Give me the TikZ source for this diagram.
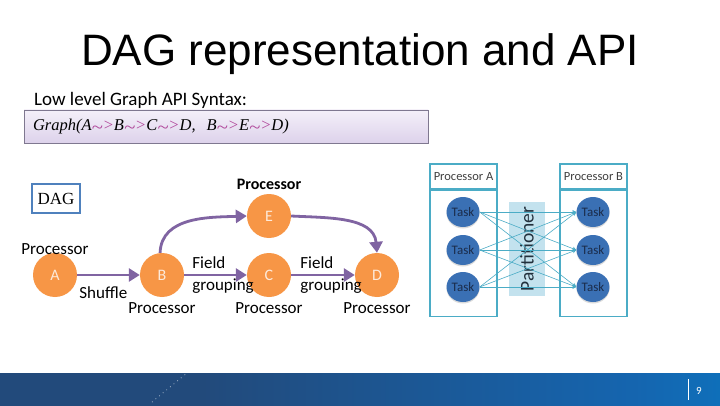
\documentclass[tikz,border=0pt]{standalone}
\usepackage{fontspec}
\setmainfont{Carlito}
\newfontfamily\titlefont{Liberation Sans}
\newfontfamily\codefont{Liberation Serif}
\usepackage{tikz}
\usetikzlibrary{shapes.geometric, arrows.meta, positioning, shadows, calc}
\definecolor{nodeorange}{HTML}{F79646}
\definecolor{letterlight}{HTML}{FDEADA}
\definecolor{arrowpurple}{HTML}{8064A2}
\definecolor{dagblue}{HTML}{4F81BD}
\definecolor{apitop}{HTML}{F4F0F9}
\definecolor{apibottom}{HTML}{DDD2EB}
\definecolor{apiborder}{HTML}{7F7890}
\definecolor{flowpink}{HTML}{B0479A}
\definecolor{partteal}{HTML}{4BACC6}
\definecolor{partfill}{HTML}{C3E2EE}
\definecolor{parttext}{HTML}{22303C}
\definecolor{taskblue}{HTML}{3A70B4}
\definecolor{tasktext}{HTML}{1B2C4A}
\definecolor{headgray}{HTML}{404040}
\definecolor{barleft}{HTML}{224A7B}
\definecolor{barmid}{HTML}{1565AF}
\definecolor{barlight}{HTML}{0088D4}
\definecolor{barright}{HTML}{08A3DF}
\pgfdeclarehorizontalshading{barshade}{100bp}{color(0bp)=(barleft); color(39bp)=(barleft); color(69bp)=(barmid); color(90bp)=(barlight); color(100bp)=(barright)}
\newcommand{\flowto}{\textcolor{flowpink}{\raisebox{-0.2em}{\scalebox{1.25}[1.1]{\textasciitilde}}>}}
\tikzset{
  proc_node/.style={circle, fill=nodeorange, minimum size=44pt, inner sep=0pt, text=letterlight, font=\fontsize{16}{18}\selectfont},
  proc_label/.style={inner sep=0pt, font=\fontsize{17}{20}\selectfont},
  edge_label/.style={inner sep=0pt, align=left, font=\fontsize{17}{22}\selectfont},
  dag_arrow/.style={-{Triangle[length=11pt, width=13pt]}, line width=2.8pt, arrowpurple},
  api_box/.style={rectangle, draw=apiborder, line width=0.8pt, top color=apitop, bottom color=apibottom, minimum width=404pt, minimum height=33pt, text width=386pt, inner xsep=9pt, align=left, font=\codefont\itshape\fontsize{16.5}{20}\selectfont},
  dag_box/.style={rectangle, draw=dagblue, line width=2pt, minimum width=48pt, minimum height=29pt, inner sep=0pt, font=\codefont\fontsize{17}{19}\selectfont},
  proc_head/.style={rectangle, draw=partteal, line width=1.2pt, minimum width=67pt, minimum height=25pt, inner sep=0pt, text=headgray, font=\fontsize{12.5}{14}\selectfont},
  proc_body/.style={rectangle, draw=partteal, line width=1.2pt, minimum width=67pt, minimum height=126pt},
  task_node/.style={ellipse, fill=taskblue, minimum width=33pt, minimum height=30pt, inner sep=0pt, text=tasktext, font=\fontsize{13}{15}\selectfont, drop shadow={shadow xshift=0pt, shadow yshift=-1.5pt, fill=gray!40, opacity=0.7}},
  part_box/.style={rectangle, fill=partfill, minimum width=36pt, minimum height=94pt, inner sep=0pt, text=parttext, font=\fontsize{19.5}{21}\selectfont},
  part_arrow/.style={-{Stealth[length=4pt, width=4pt]}, partteal, line width=0.6pt}
}

\begin{document}
\begin{tikzpicture}[x=1pt, y=1pt, node distance=4pt]
  \useasboundingbox (0,0) rectangle (720,405);
  \fill[white] (0,0) rectangle (720,405);

  % --- Title and API syntax ---
  \node[anchor=base, font=\titlefont\fontsize{44}{50}\selectfont] (title) at (360,339) {DAG representation and API};
  \node[anchor=base west, inner sep=0pt, font=\fontsize{19}{22}\selectfont] (syntax) at (34,299) {Low level Graph API Syntax:};
  \node[api_box] (api) at (226,278.5) {Graph(A\flowto B\flowto C\flowto D,\ \ B\flowto E\flowto D)};

  % --- DAG ---
  \node[dag_box] (dag) at (56,206.5) {DAG};

  \node[proc_node] (A) at (55,130) {A};
  \node[proc_node] (B) at (162,130) {B};
  \node[proc_node] (C) at (269,130) {C};
  \node[proc_node] (D) at (377,130) {D};
  \node[proc_node] (E) at (269,189) {E};

  \node[proc_label, above=-2pt of A] (lblA) {Processor};
  \node[proc_label, below=5pt of B] (lblB) {Processor};
  \node[proc_label, below=5pt of C] (lblC) {Processor};
  \node[proc_label, below=5pt of D] (lblD) {Processor};
  \node[proc_label, above=4pt of E, font=\bfseries\fontsize{16}{20}\selectfont] (lblE) {Processor};

  \node[proc_label, anchor=north west] (shuffle) at ([xshift=2pt, yshift=-11pt]A.east) {Shuffle};
  \node[edge_label, right=8pt of B] (fieldBC) {Field\\grouping};
  \node[edge_label, right=9pt of C] (fieldCD) {Field\\grouping};

  % --- Connections ---
  \draw[dag_arrow] (A) -- (B);
  \draw[dag_arrow] (B) -- (C);
  \draw[dag_arrow] (C) -- (D);
  \draw[dag_arrow] (B.95) to[out=88, in=182] (E.west);
  \draw[dag_arrow] (E.east) to[out=-3, in=95] (D.north);

  % --- Partitioner ---
  \node[proc_head] (headA) at (463.5,228.5) {Processor A};
  \node[proc_body, below=0pt of headA] (bodyA) {};
  \node[proc_head] (headB) at (593.5,228.5) {Processor B};
  \node[proc_body, below=0pt of headB] (bodyB) {};
  \node[part_box] (part) at (527,156) {\rotatebox{90}{Partitioner}};

  \foreach \i/\y in {1/193, 2/155, 3/118} {
    \node[task_node] (task_a\i) at (463,\y) {Task};
    \node[task_node] (task_b\i) at (593,\y) {Task};
  }
  \foreach \i in {1,2,3}
    \foreach \j in {1,2,3}
      \draw[part_arrow] (task_a\i.east) -- (task_b\j.west);

  % --- Footer ---
  \shade[shading=barshade] (0,0) rectangle (720,32);
  \draw[white, line width=0.7pt, dash pattern=on 0.7pt off 4pt, opacity=0.8] (152,3) -- (187,32);
  \draw[white, line width=0.6pt] (688,5) -- (688,26);
  \node[text=white, font=\fontsize{11}{13}\selectfont] (page) at (699,14) {9};
\end{tikzpicture}
\end{document}
